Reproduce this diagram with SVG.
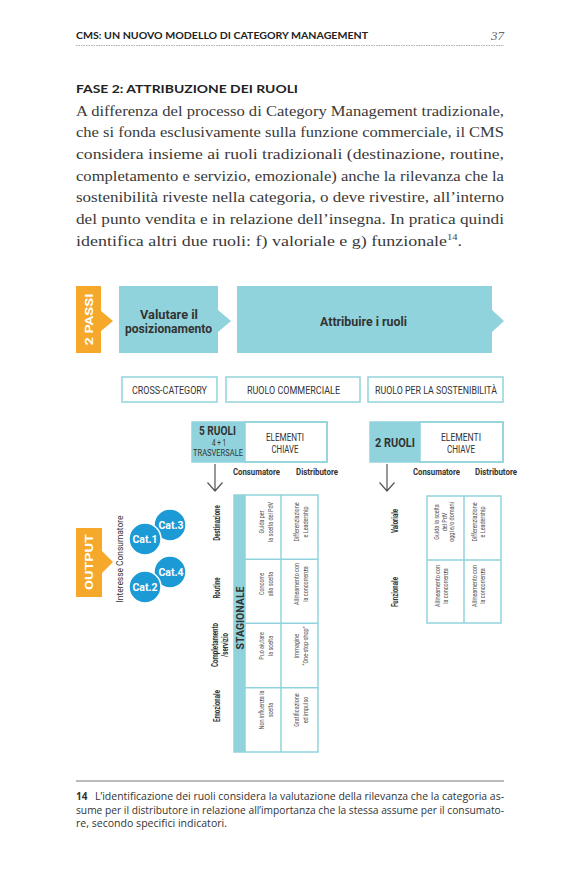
<svg xmlns="http://www.w3.org/2000/svg" width="580" height="885" viewBox="0 0 580 885">
<defs>
<style>
.s{font-family:Roboto,"Liberation Sans",sans-serif;fill:#333}
.b{font-weight:bold}
.teal{fill:#91d3dc}
.or{fill:#f6a82b}
.blue{fill:#1c9ad6;stroke:#fff;stroke-width:1.5}
.lbl{fill:#fff;stroke:#91d3dc;stroke-width:1.5}
.grid{fill:none;stroke:#91d3dc;stroke-width:1.5}
.cell{font-size:8px;fill:#555}
.rl{font-size:8.5px;font-weight:bold;fill:#333}
.wt{fill:#fff;font-weight:bold}
.body{font-family:"Liberation Serif","Times New Roman",serif;font-size:15.5px;fill:#3a3a3a}
.hd{font-family:Lato,"Open Sans",sans-serif;font-weight:bold;fill:#222}
.fn{font-family:"Open Sans",Lato,sans-serif;font-size:10px;fill:#333}
.arr{fill:none;stroke:#555;stroke-width:1.2}
</style>
</defs>
<rect width="580" height="885" fill="#fff"/>

<!-- page header -->
<g id="page-header">
<text class="hd" x="76" y="39" font-size="10" textLength="292" lengthAdjust="spacingAndGlyphs">CMS: UN NUOVO MODELLO DI CATEGORY MANAGEMENT</text>
<text x="504" y="40" text-anchor="end" font-family="Liberation Serif,serif" font-style="italic" font-size="13" fill="#666">37</text>
<line x1="76" y1="45.5" x2="504" y2="45.5" stroke="#999" stroke-width="0.8" stroke-dasharray="1.5 1"/>
</g>

<g id="intro-text">
<text class="hd" x="76" y="93" font-size="12" textLength="222" lengthAdjust="spacingAndGlyphs">FASE 2: ATTRIBUZIONE DEI RUOLI</text>
<text class="body" x="76" y="115.5" textLength="428" lengthAdjust="spacingAndGlyphs">A differenza del processo di Category Management tradizionale,</text>
<text class="body" x="76" y="137.2" textLength="428" lengthAdjust="spacingAndGlyphs">che si fonda esclusivamente sulla funzione commerciale, il CMS</text>
<text class="body" x="76" y="158.9" textLength="428" lengthAdjust="spacingAndGlyphs">considera insieme ai ruoli tradizionali (destinazione, routine,</text>
<text class="body" x="76" y="180.6" textLength="428" lengthAdjust="spacingAndGlyphs">completamento e servizio, emozionale) anche la rilevanza che la</text>
<text class="body" x="76" y="202.3" textLength="428" lengthAdjust="spacingAndGlyphs">sostenibilità riveste nella categoria, o deve rivestire, all’interno</text>
<text class="body" x="76" y="224" textLength="428" lengthAdjust="spacingAndGlyphs">del punto vendita e in relazione dell’insegna. In pratica quindi</text>
<text class="body" x="76" y="245.7" textLength="386" lengthAdjust="spacingAndGlyphs">identifica altri due ruoli: f) valoriale e g) funzionale<tspan font-size="9" dy="-6">14</tspan><tspan dy="6">.</tspan></text>
</g>

<!-- step bar -->
<g id="passi">
<path class="or" d="M76,286 H101 V311 L113,321 L101,331 V353 H76 Z"/>
<text class="wt" font-family="Roboto,sans-serif" font-size="11" transform="translate(89,319.5) rotate(-90)" text-anchor="middle" dominant-baseline="central" textLength="52" lengthAdjust="spacingAndGlyphs">2 PASSI</text>
</g>
<g id="valutare">
<path class="teal" d="M119,286 H218 V310 L231,321 L218,332 V353 H119 Z"/>
<text class="s b" x="169" y="318.5" font-size="12.5" text-anchor="middle" textLength="58" lengthAdjust="spacingAndGlyphs">Valutare il</text>
<text class="s b" x="168.5" y="332.5" font-size="12.5" text-anchor="middle" textLength="87" lengthAdjust="spacingAndGlyphs">posizionamento</text>
</g>
<g id="attribuire">
<path class="teal" d="M237,286 H492 V310 L504,321 L492,332 V353 H237 Z"/>
<text class="s b" x="363.5" y="326" font-size="13" text-anchor="middle" textLength="87" lengthAdjust="spacingAndGlyphs">Attribuire i ruoli</text>
</g>

<!-- label row -->
<g id="cross-category">
<rect class="lbl" x="122" y="377" width="95" height="25"/>
<text class="s" x="169.5" y="393.5" font-size="10" text-anchor="middle" textLength="75" lengthAdjust="spacingAndGlyphs">CROSS-CATEGORY</text>
</g>
<g id="ruolo-commerciale">
<rect class="lbl" x="226" y="377" width="134" height="25"/>
<text class="s" x="293.5" y="393.5" font-size="10" text-anchor="middle" textLength="93" lengthAdjust="spacingAndGlyphs">RUOLO COMMERCIALE</text>
</g>
<g id="ruolo-sostenibilita">
<rect class="lbl" x="368" y="377" width="135" height="25"/>
<text class="s" x="436" y="393.5" font-size="10" text-anchor="middle" textLength="122" lengthAdjust="spacingAndGlyphs">RUOLO PER LA SOSTENIBILITÀ</text>
</g>

<!-- 5 ruoli box -->
<g id="cinque-ruoli">
<rect class="teal" x="192" y="422" width="53" height="40"/>
<rect class="lbl" x="245" y="422" width="82" height="40"/>
<rect class="grid" x="192" y="422" width="135" height="40"/>
<text class="s b" x="217.5" y="435" font-size="12" text-anchor="middle" textLength="37" lengthAdjust="spacingAndGlyphs">5 RUOLI</text>
<text class="s" x="219" y="446" font-size="9" text-anchor="middle" textLength="14" lengthAdjust="spacingAndGlyphs">4 + 1</text>
<text class="s" x="218" y="456" font-size="8.5" text-anchor="middle" textLength="50" lengthAdjust="spacingAndGlyphs">TRASVERSALE</text>
<text class="s" x="285" y="441" font-size="10" text-anchor="middle" textLength="38" lengthAdjust="spacingAndGlyphs">ELEMENTI</text>
<text class="s" x="285" y="452.5" font-size="10" text-anchor="middle" textLength="27" lengthAdjust="spacingAndGlyphs">CHIAVE</text>
<text class="s b" x="233" y="475" font-size="8.5" textLength="47" lengthAdjust="spacingAndGlyphs">Consumatore</text>
<text class="s b" x="296" y="475" font-size="8.5" textLength="42" lengthAdjust="spacingAndGlyphs">Distributore</text>
</g>

<!-- 2 ruoli box -->
<g id="due-ruoli">
<rect class="teal" x="370" y="422" width="50" height="40"/>
<rect class="lbl" x="420" y="422" width="83" height="40"/>
<rect class="grid" x="370" y="422" width="133" height="40"/>
<text class="s b" x="395" y="447" font-size="12" text-anchor="middle" textLength="40" lengthAdjust="spacingAndGlyphs">2 RUOLI</text>
<text class="s" x="461" y="441" font-size="10" text-anchor="middle" textLength="40" lengthAdjust="spacingAndGlyphs">ELEMENTI</text>
<text class="s" x="461" y="452.5" font-size="10" text-anchor="middle" textLength="28" lengthAdjust="spacingAndGlyphs">CHIAVE</text>
<text class="s b" x="413" y="475" font-size="8.5" textLength="47" lengthAdjust="spacingAndGlyphs">Consumatore</text>
<text class="s b" x="475" y="475" font-size="8.5" textLength="42" lengthAdjust="spacingAndGlyphs">Distributore</text>
</g>

<!-- connectors -->
<g id="connectors">
<path class="arr" d="M215,464 V491 M207.5,482.5 L215,491 L222.5,482.5"/>
<path class="arr" d="M387,464 V491 M379.5,482.5 L387,491 L394.5,482.5"/>
</g>

<!-- output -->
<g id="output">
<path class="or" d="M76,528 H102 V551 L113,562 L102,573 V597 H76 Z"/>
<text class="wt" font-family="Roboto,sans-serif" font-size="11" transform="translate(89,562) rotate(-90)" text-anchor="middle" dominant-baseline="central" textLength="56" lengthAdjust="spacingAndGlyphs">OUTPUT</text>
<text class="s" font-size="9" transform="translate(120,559) rotate(-90)" text-anchor="middle" dominant-baseline="central" textLength="87" lengthAdjust="spacingAndGlyphs">Interesse Consumatore</text>
</g>
<g id="categorie">
<circle class="blue" cx="170" cy="525" r="16"/>
<circle class="blue" cx="145" cy="539" r="16"/>
<circle class="blue" cx="170" cy="572" r="16"/>
<circle class="blue" cx="145" cy="587" r="16"/>
<g font-family="Roboto,sans-serif" font-size="10.5" font-weight="bold" fill="#fff" text-anchor="middle">
<text x="171" y="529">Cat.3</text>
<text x="145" y="543">Cat.1</text>
<text x="171" y="576">Cat.4</text>
<text x="145" y="591">Cat.2</text>
</g>
</g>

<!-- left table -->
<g id="tabella-commerciale">
<rect class="teal" x="234" y="495" width="11" height="257"/>
<rect class="grid" x="234" y="495" width="84" height="257"/>
<path class="grid" d="M245,495 V752 M281,495 V752 M245,559.3 H318 M245,623.3 H318 M245,687.7 H318"/>
<text class="s b" font-size="10.5" transform="translate(240,618) rotate(-90)" text-anchor="middle" dominant-baseline="central" textLength="63" lengthAdjust="spacingAndGlyphs">STAGIONALE</text>
<g class="s rl" text-anchor="middle" dominant-baseline="central">
<text transform="translate(217,523) rotate(-90) scale(0.72,1)">Destinazione</text>
<text transform="translate(217,588) rotate(-90) scale(0.72,1)">Routine</text>
<text transform="translate(215,645) rotate(-90) scale(0.72,1)">Completamento</text>
<text transform="translate(225,645) rotate(-90) scale(0.72,1)">/servizio</text>
<text transform="translate(217,706) rotate(-90) scale(0.72,1)">Emozionale</text>
</g>
<g class="s cell" text-anchor="middle" dominant-baseline="central">
<text transform="translate(262,522) rotate(-90) scale(0.68,1)">Guida per</text>
<text transform="translate(271,522) rotate(-90) scale(0.68,1)">la scelta del PdV</text>
<text transform="translate(297,522) rotate(-90) scale(0.68,1)">Differenziazione</text>
<text transform="translate(306,522) rotate(-90) scale(0.68,1)">e Leadership</text>
<text transform="translate(262,584) rotate(-90) scale(0.68,1)">Concorre</text>
<text transform="translate(271,584) rotate(-90) scale(0.68,1)">alla scelta</text>
<text transform="translate(297,584) rotate(-90) scale(0.68,1)">Allineamento con</text>
<text transform="translate(306,584) rotate(-90) scale(0.68,1)">la concorrenza</text>
<text transform="translate(262,646) rotate(-90) scale(0.68,1)">Può aiutare</text>
<text transform="translate(271,646) rotate(-90) scale(0.68,1)">la scelta</text>
<text transform="translate(297,646) rotate(-90) scale(0.68,1)">Immagine</text>
<text transform="translate(306,646) rotate(-90) scale(0.68,1)">“One-stop-shop”</text>
<text transform="translate(262,710) rotate(-90) scale(0.68,1)">Non influenza la</text>
<text transform="translate(271,710) rotate(-90) scale(0.68,1)">scelta</text>
<text transform="translate(297,710) rotate(-90) scale(0.68,1)">Gratificazione</text>
<text transform="translate(306,710) rotate(-90) scale(0.68,1)">ed impulso</text>
</g>
</g>

<!-- right table -->
<g id="tabella-sostenibilita">
<rect class="grid" x="427" y="496" width="74" height="127"/>
<path class="grid" d="M464,496 V623 M427,560 H501"/>
<g class="s rl" text-anchor="middle" dominant-baseline="central">
<text transform="translate(395,521) rotate(-90) scale(0.72,1)">Valoriale</text>
<text transform="translate(395,592) rotate(-90) scale(0.72,1)">Funzionale</text>
</g>
<g class="s cell" text-anchor="middle" dominant-baseline="central">
<text transform="translate(437,522) rotate(-90) scale(0.68,1)">Guida la scelta</text>
<text transform="translate(444.5,522) rotate(-90) scale(0.68,1)">del PdV</text>
<text transform="translate(452,522) rotate(-90) scale(0.68,1)">oggi e/o domani</text>
<text transform="translate(475,522) rotate(-90) scale(0.68,1)">Differenziazione</text>
<text transform="translate(483,522) rotate(-90) scale(0.68,1)">e Leadership</text>
<text transform="translate(438,586) rotate(-90) scale(0.68,1)">Allineamento con</text>
<text transform="translate(446,586) rotate(-90) scale(0.68,1)">la concorrenza</text>
<text transform="translate(474.5,586) rotate(-90) scale(0.68,1)">Allineamento con</text>
<text transform="translate(482.5,586) rotate(-90) scale(0.68,1)">la concorrenza</text>
</g>
</g>

<!-- footnote -->
<g id="footnote">
<line x1="76" y1="781" x2="504" y2="781" stroke="#777" stroke-width="1"/>
<text class="fn" x="76" y="800" font-weight="bold">14</text>
<text class="fn" x="95" y="800" textLength="409" lengthAdjust="spacingAndGlyphs">L’identificazione dei ruoli considera la valutazione della rilevanza che la categoria as-</text>
<text class="fn" x="76" y="813.5" textLength="428" lengthAdjust="spacingAndGlyphs">sume per il distributore in relazione all’importanza che la stessa assume per il consumato-</text>
<text class="fn" x="76" y="827" textLength="151" lengthAdjust="spacingAndGlyphs">re, secondo specifici indicatori.</text>
</g>
</svg>
